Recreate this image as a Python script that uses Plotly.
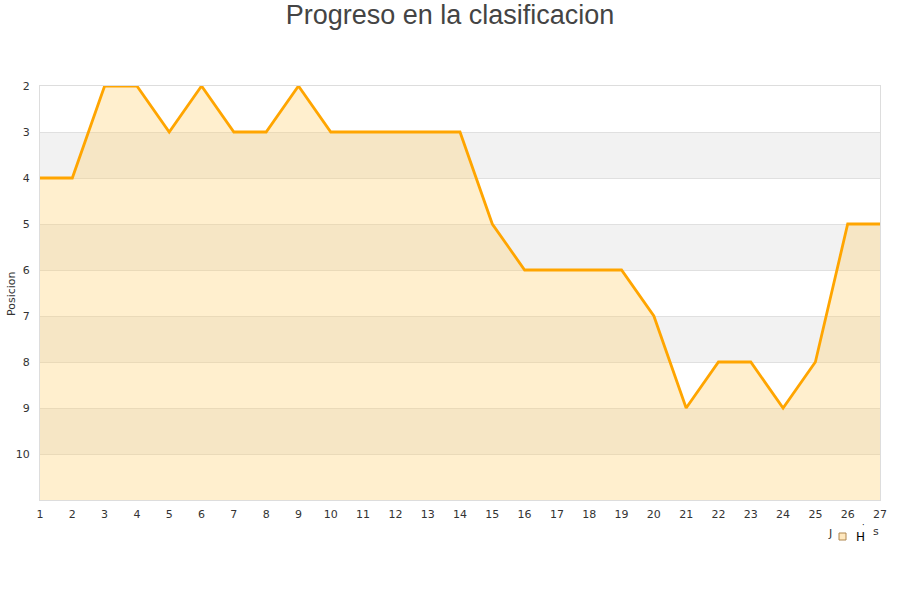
import plotly.graph_objects as go

jornadas = list(range(1, 28))
posiciones = [4, 4, 2, 2, 3, 2, 3, 3, 2, 3, 3, 3, 3, 3, 5, 6, 6, 6, 6, 7, 9, 8, 8, 9, 8, 5, 5]
y_ticks = [2, 3, 4, 5, 6, 7, 8, 9, 10]
bandas = [(3, 4), (5, 6), (7, 8), (9, 10)]
fondo = 11

fig = go.Figure()
fig.add_trace(go.Scatter(x=jornadas, y=[fondo] * len(jornadas), mode="lines",
                         line=dict(width=0), hoverinfo="skip", showlegend=False))
fig.add_trace(go.Scatter(x=jornadas, y=posiciones, mode="lines", fill="tonexty",
                         fillcolor="rgba(255,204,102,0.32)",
                         line=dict(color="#FFA500", width=2.8), showlegend=False))

for a, b in bandas:
    fig.add_shape(type="rect", xref="paper", yref="y", x0=0, x1=1, y0=a, y1=b,
                  fillcolor="#f2f2f2", line=dict(width=0), layer="below")

L, R, T, B = 40, 20, 86, 100
W, H = 900, 600
pw, ph = W - L - R, H - T - B

def px(xr):
    return (xr - L) / pw

def py(yr):
    return (H - B - yr) / ph

fig.update_layout(
    width=W, height=H,
    paper_bgcolor="white", plot_bgcolor="white",
    margin=dict(l=L, r=R, t=T, b=B, autoexpand=False),
    title=dict(text="Progreso en la clasificacion", x=0.5, xanchor="center",
               y=1 - 15 / H, yanchor="middle",
               font=dict(family="Liberation Sans, Arial", size=27, color="#444")),
    font=dict(family="DejaVu Sans", size=11, color="#333"),
    xaxis=dict(range=[1, 27], tickmode="array", tickvals=jornadas, showgrid=False,
               zeroline=False, showline=True, linecolor="#ddd", mirror=True,
               ticks="", ticklabelstandoff=4, automargin=False,
               tickfont=dict(size=11, color="#333")),
    yaxis=dict(range=[fondo, 2], tickmode="array", tickvals=y_ticks, showgrid=True,
               gridcolor="#e0e0e0", zeroline=False, showline=True, linecolor="#ddd",
               mirror=True, ticks="", ticklabelstandoff=7, automargin=False,
               tickfont=dict(size=11, color="#333")),
)

# y-axis title
fig.add_annotation(text="Posicion", xref="paper", yref="paper", x=px(11), y=py(293),
                   xanchor="center", yanchor="middle", textangle=-90,
                   showarrow=False, font=dict(size=11, color="#333"))

# legend-like marks
fig.add_annotation(text="J", xref="paper", yref="paper", x=px(830), y=py(533),
                   xanchor="center", yanchor="middle",
                   showarrow=False, font=dict(size=11, color="#333"))
fig.add_shape(type="rect", xref="paper", yref="paper",
              x0=px(839), x1=px(846), y0=py(540), y1=py(533),
              fillcolor="#FFE8BF", line=dict(color="#b08850", width=1))
fig.add_annotation(text="H", xref="paper", yref="paper", x=px(860), y=py(537),
                   xanchor="center", yanchor="middle",
                   showarrow=False, font=dict(size=12, color="#000"))
fig.add_annotation(text="·", xref="paper", yref="paper", x=px(863.5), y=py(525),
                   xanchor="center", yanchor="middle",
                   showarrow=False, font=dict(size=8, color="#000"))
fig.add_annotation(text="s", xref="paper", yref="paper", x=px(876), y=py(531),
                   xanchor="center", yanchor="middle",
                   showarrow=False, font=dict(size=11, color="#333"))

fig.write_html("out.html", config={"displayModeBar": False},
               post_script="document.body.style.margin='0';")
